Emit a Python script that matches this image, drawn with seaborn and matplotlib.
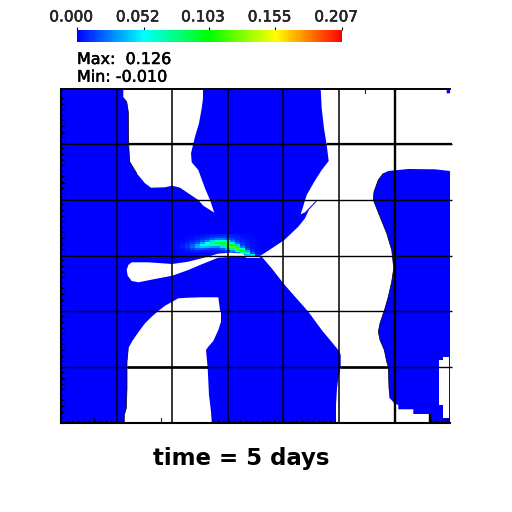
import numpy as np
import matplotlib
matplotlib.use('Agg')
import matplotlib.pyplot as plt
import matplotlib.patheffects as pe
from matplotlib.colors import LinearSegmentedColormap
from matplotlib.transforms import ScaledTranslation
import seaborn as sns

# Colour scale
scale_ticks = [0.000, 0.052, 0.103, 0.155, 0.207]
scale_colors = ['#0000ff', '#00ffff', '#00ff00', '#ffff00', '#ff0000']

# Concentration around the fracture tip (rows y=235..257, cols x=177..262)
plume = [
    [0, 0, 0, .001, .002, .003, .004, .005, .006, .006, .006, .005, .004, .003, .002, .001, 0, 0],
    [0, 0, .001, .002, .004, .005, .007, .010, .012, .012, .011, .008, .006, .004, .002, .001, 0, 0],
    [0, .001, .002, .004, .006, .009, .013, .020, .026, .026, .021, .014, .008, .005, .003, .002, .001, 0],
    [.001, .002, .004, .007, .011, .017, .028, .045, .060, .062, .048, .025, .012, .007, .004, .002, .001, 0],
    [.002, .004, .007, .012, .020, .034, .055, .075, .090, .095, .085, .048, .020, .009, .005, .003, .001, 0],
    [.003, .005, .010, .018, .034, .050, .060, .066, .068, .085, .110, .095, .042, .013, .006, .003, .001, 0],
    [.003, .006, .012, .022, .036, .042, .038, .032, .030, .045, .085, .122, .088, .026, .008, .004, .001, 0],
    [.002, .004, .008, .013, .018, .018, .014, .012, .012, .018, .035, .080, .120, .062, .014, .005, .002, 0],
    [.001, .002, .004, .006, .008, .006, .006, .006, .006, .008, .014, .030, .075, .100, .035, .008, .002, 0],
    [.001, .002, .002, .003, .003, .003, .003, .003, .003, .004, .006, .012, .025, .060, .070, .018, .004, .001],
    [.001, .001, .002, .002, .002, .002, .002, .002, .002, .003, .004, .006, .010, .020, .045, .050, .010, .002],
    [.001, .001, .001, .002, .002, .002, .002, .002, .003, .003, .003, .004, .005, .008, .012, .020, .020, .004],
]

# Areas the tracer has not reached, outlined from the picture
dry_top = [(123.3, 89), (123.3, 97.7), (126.7, 101.7), (128.3, 111.7), (128.7, 144.3), (129.7, 161.7),
           (136.7, 173.3), (145, 183.3), (151, 187.7), (165, 187.3), (172.3, 185.7), (180, 187.7),
           (188.3, 193.3), (198.3, 200), (203.3, 205.7), (214.3, 212.7), (210, 200), (205, 188.3),
           (198.3, 170), (191.7, 162.3), (191, 153.3), (195, 136.7), (199, 123.3), (201.7, 108.3),
           (203, 98.3), (203, 89)]
dry_right = [(320.7, 89), (321.7, 108.3), (324, 128.3), (326.7, 145), (328.7, 161), (321.7, 170),
             (314.3, 181.7), (306.7, 195), (300.7, 214.3), (305, 212.3), (316, 200.7), (317, 201),
             (309, 209.7), (305, 218.3), (298.3, 226.7), (284.3, 240), (268.3, 250.7), (260, 256),
             (261.7, 256.7), (271.7, 268.3), (283.3, 283.3), (295, 296.7), (308.3, 311.7), (321.7, 330),
             (338.3, 350), (340.7, 355), (340.7, 366.7), (338.3, 378.3), (337, 388.3), (336, 405),
             (336, 422), (430, 422), (430, 414), (413.3, 414), (413.3, 409.3), (398.3, 409.3),
             (398.3, 405), (394.3, 403.3), (390, 398.3), (389, 388.3), (388.3, 366.7), (386.7, 361.7),
             (384.3, 350), (380, 340), (378.3, 331.7), (380, 323.3), (385, 308.3), (388.3, 296.7),
             (391.7, 281.7), (393.7, 268.3), (392.3, 255), (391.7, 250), (386.7, 233.3), (380, 216.7),
             (373.3, 200), (374, 191.7), (378.3, 180), (383.3, 173.3), (388.3, 171), (408.3, 169),
             (435, 169.3), (450, 171), (450, 93.3), (446.7, 93.3), (446.7, 89)]
dry_slit = [(439, 360), (443.3, 360), (443.3, 356.7), (449, 356.7), (449, 418.3), (443.3, 418.3),
            (443.3, 405), (439, 405)]
dry_drop = [(131.7, 262.3), (148.3, 262.3), (172.3, 264), (188.3, 261.7), (201.7, 258.3), (212, 255.5),
            (218, 253.7), (230, 252.7), (243, 253.7), (246, 256.5), (225, 257.3), (218, 257.8),
            (201.7, 264.3), (188.3, 270), (172.3, 275.7), (155, 279), (138.3, 282.3), (131.7, 281),
            (127.7, 275.7), (126.7, 270), (128.3, 265)]
dry_sliver = [(246, 256.7), (260, 256.7), (260, 258), (246, 258)]
dry_bottom = [(218.3, 297.3), (201.7, 297.3), (188.3, 297.7), (178.3, 298.3), (172.3, 301.7), (165, 305.7),
              (158.3, 311), (151.7, 316.7), (145, 323.3), (138.3, 332.3), (132.3, 341), (128.3, 348.3),
              (127, 361.7), (127, 388.3), (126.3, 408.3), (124.3, 415), (124.3, 422), (211.7, 422),
              (211, 411.7), (209, 395), (207.7, 368.3), (206, 350), (208.3, 346.7), (213.3, 341),
              (218.3, 330), (221, 321.7), (221, 311.7), (220, 310)]
dry_areas = [dry_top, dry_right, dry_slit, dry_drop, dry_sliver, dry_bottom]

# Mesh lines
mesh_x = [116.7, 172.3, 228.3, 283.3, 339.3]
mesh_y = [144.3, 200.3, 256.3, 311, 367]

PAGE = 512.0


def box(x0, y0, x1, y1):
    # pixel box of the picture -> figure fractions
    return [x0 / PAGE, 1 - y1 / PAGE, (x1 - x0) / PAGE, (y1 - y0) / PAGE]


sns.set_style('white')
plt.rcParams['font.family'] = ['DejaVu Sans']
cmap = LinearSegmentedColormap.from_list('tracer', scale_colors)
heavier = [pe.withStroke(linewidth=0.35, foreground='black')]

fig = plt.figure(figsize=(5.12, 5.12), dpi=100)

# Blue background of the domain
base = fig.add_axes(box(61, 89, 450, 423), zorder=0)
base.set_facecolor(scale_colors[0])
base.set_xticks([])
base.set_yticks([])
for s in base.spines.values():
    s.set_visible(False)

# Plume and colour bar
plume_ax = fig.add_axes(box(175, 234, 265, 258), zorder=1)
cbar_ax = fig.add_axes(box(77, 30, 342, 42), zorder=1)
sns.heatmap(np.array(plume), ax=plume_ax, cmap=cmap, vmin=scale_ticks[0], vmax=scale_ticks[-1],
            xticklabels=False, yticklabels=False, cbar_ax=cbar_ax,
            cbar_kws={'orientation': 'horizontal', 'ticks': scale_ticks})
cbar_ax.xaxis.set_ticks_position('top')
cbar_ax.set_xticklabels([f'{t:.3f}' for t in scale_ticks], fontsize=11)
cbar_ax.tick_params(axis='x', length=2.2, width=0.8, pad=1.8, color='black')
# the labels sit a little left of their ticks
shift = ScaledTranslation(-6 / 100, 0, fig.dpi_scale_trans)
for label in cbar_ax.get_xticklabels():
    label.set_transform(label.get_transform() + shift)
    label.set_path_effects(heavier)
for s in cbar_ax.spines.values():
    s.set_visible(False)

# Dry areas, mesh and frame, in picture pixels
ax = fig.add_axes(box(61, 89, 450, 423), zorder=2)
ax.patch.set_visible(False)
ax.set_xlim(61, 450)
ax.set_ylim(423, 89)
for area in dry_areas:
    xs, ys = zip(*area)
    ax.fill(xs, ys, color='white', lw=0)

# dark fringe along some of the front
for edge in [dry_right[38:58], dry_top[1:7], dry_bottom[11:17]]:
    xs, ys = zip(*edge)
    ax.plot(xs, ys, color='black', lw=0.5)

ax.plot([365.3, 365.3], [89, 93], color=scale_colors[0], lw=0.8)
ax.plot([161.3, 161.3], [418, 422], color=scale_colors[0], lw=0.8)

ax.vlines(mesh_x, 89, 423, color='black', lw=1.1)
ax.vlines(395, 89, 423, color='black', lw=1.7)
ax.hlines(mesh_y, 61, 452, color='black', lw=1.0, clip_on=False)
# the lines look heavier where they cross the dry areas
ax.hlines(144.3, 129, 195, color='black', lw=1.6)
ax.hlines(144.3, 327, 452, color='black', lw=1.6, clip_on=False)
ax.hlines(367, 127, 208, color='black', lw=1.9)
ax.hlines(367, 340, 388, color='black', lw=1.9)
ax.vlines(429.6, 414, 423, color='black', lw=1.7)
ax.vlines(450, 418, 423, color='black', lw=1.2)
ax.hlines(418.6, 443, 450, color='black', lw=1.0)

ax.set_xticks([94.3])
ax.set_yticks([133.3, 183, 378.7])
ax.set_xticklabels([])
ax.set_yticklabels([])
ax.set_xticks(np.arange(66.6, 450, 5.6), minor=True)
ax.set_yticks(np.arange(98, 423, 5.6), minor=True)
ax.tick_params(which='minor', direction='in', length=2.2, width=0.8, color='black',
               bottom=True, left=True, top=False, right=False)
ax.tick_params(which='major', direction='in', length=3.5, width=0.8, color='black',
               bottom=True, left=True, top=False, right=False)
for side, width in {'left': 1.5, 'bottom': 1.5, 'top': 1.4}.items():
    ax.spines[side].set_visible(True)
    ax.spines[side].set_linewidth(width)
    ax.spines[side].set_color('black')
ax.spines['right'].set_visible(False)

fig.text(77 / PAGE, 1 - 64 / PAGE, 'Max:  0.126', fontsize=11.5, color='black', va='baseline',
         path_effects=heavier)
fig.text(77 / PAGE, 1 - 81.7 / PAGE, 'Min: -0.010', fontsize=11.5, color='black', va='baseline',
         path_effects=heavier)
fig.text(241 / PAGE, 1 - 465 / PAGE, 'time = 5 days', fontsize=16.5, fontweight='bold',
         ha='center', va='baseline', color='black')

fig.savefig('out.png', dpi=100, facecolor='white')
